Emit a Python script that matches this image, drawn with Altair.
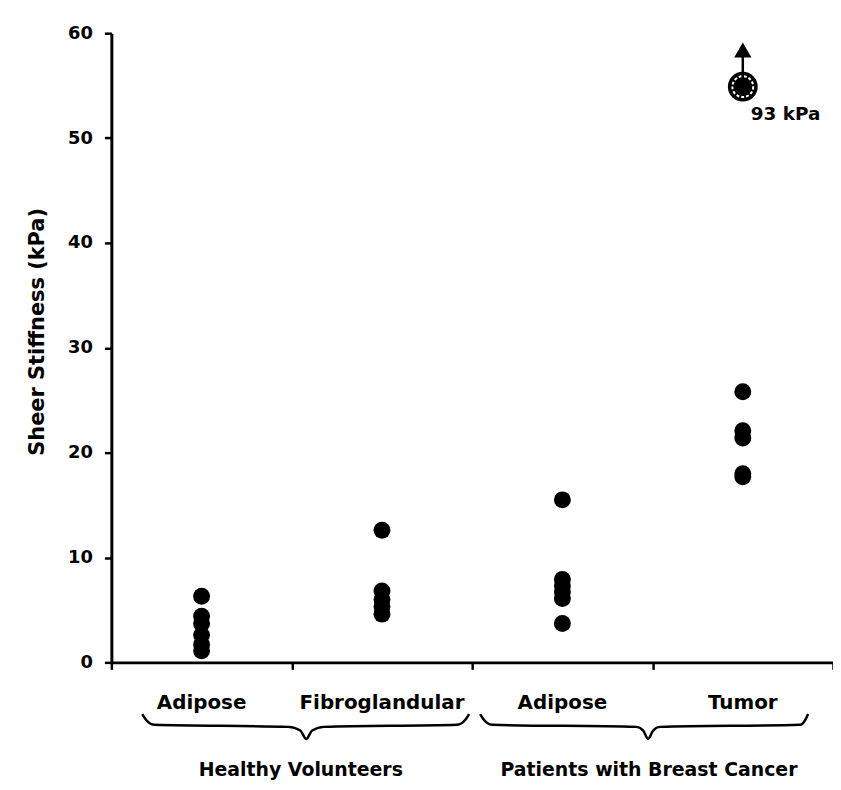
import altair as alt
import pandas as pd

# ---- data ----
categories = ["Adipose", "Fibroglandular", "Adipose", "Tumor"]
cat_pos = [0.5, 1.5, 2.5, 3.5]
hv_adipose = [6.3, 4.4, 3.7, 2.6, 1.7, 1.1]
hv_fibro = [12.6, 6.8, 6.0, 5.3, 4.6]
pt_adipose = [15.5, 7.9, 7.3, 6.7, 6.1, 3.7]
pt_tumor = [25.8, 22.1, 21.4, 18.0, 17.7]
series = [hv_adipose, hv_fibro, pt_adipose, pt_tumor]

# off-scale tumor value (drawn at top of the axis with an arrow)
outlier_x = 3.5
outlier_plot_y = 54.9
outlier_label = "93 kPa"
arrow_tip_y = 58.4

groups = ["Healthy Volunteers", "Patients with Breast Cancer"]
group_pos = [1.05, 2.98]

# brace outlines (x in category units, y in kPa units below the axis)
brace_x = [
    [0.171, 0.193, 0.237, 0.981, 1.047, 1.080, 1.113, 1.179, 1.917, 1.961, 1.983],
    [2.044, 2.066, 2.110, 2.909, 2.948, 2.975, 3.003, 3.041, 3.818, 3.846, 3.862],
]
brace_y = [-4.93, -5.50, -5.95, -6.15, -6.50, -7.30, -6.50, -6.15, -5.95, -5.50, -4.93]

cat_label_y = -3.9
group_label_y = -10.3

FONT = "DejaVu Sans"

# ---- tables ----
pts = pd.DataFrame(
    [{"x": cat_pos[i], "y": v} for i, vals in enumerate(series) for v in vals]
)
outlier = pd.DataFrame({"x": [outlier_x], "y": [outlier_plot_y], "y2": [arrow_tip_y - 0.4],
                        "label": [outlier_label]})
tip = pd.DataFrame({"x": [outlier_x], "y": [arrow_tip_y]})
cats = pd.DataFrame({"x": cat_pos, "y": [cat_label_y] * 4, "label": categories})
grp = pd.DataFrame({"x": group_pos, "y": [group_label_y] * 2, "label": groups})
braces = pd.DataFrame(
    [{"g": gi, "i": j, "x": bx, "y": brace_y[j]}
     for gi, xs in enumerate(brace_x) for j, bx in enumerate(xs)]
)

xenc = alt.X(
    "x:Q",
    scale=alt.Scale(domain=[0, 4], nice=False, zero=False),
    axis=alt.Axis(values=[0, 1, 2, 3, 4], labels=False, title=None, grid=False,
                  domainColor="black", domainWidth=3, tickColor="black",
                  tickWidth=2.5, tickSize=7),
)
yenc = alt.Y(
    "y:Q",
    scale=alt.Scale(domain=[0, 60], nice=False),
    axis=alt.Axis(values=[0, 10, 20, 30, 40, 50, 60], title="Sheer Stiffness (kPa)",
                  grid=False, domainColor="black", domainWidth=3, tickColor="black",
                  tickWidth=2.5, tickSize=7, labelPadding=12, labelFont=FONT,
                  labelFontSize=18, labelFontWeight="bold", labelColor="black",
                  titleFont=FONT, titleFontSize=21, titleFontWeight="bold",
                  titleColor="black", titleX=-64, titleY=300),
)

points = alt.Chart(pts).mark_circle(size=290, color="black", opacity=1).encode(x=xenc, y=yenc)

ring_outer = alt.Chart(outlier).mark_point(
    shape="circle", size=900, filled=True, fill="black", opacity=1, strokeWidth=0
).encode(x=xenc, y=yenc)
ring_inner = alt.Chart(outlier).mark_point(
    shape="circle", size=440, filled=False, stroke="white", strokeWidth=2,
    strokeDash=[3, 2], opacity=1
).encode(x=xenc, y=yenc)
arrow_shaft = alt.Chart(outlier).mark_rule(color="black", strokeWidth=2.5).encode(
    x=xenc, y=yenc, y2="y2:Q"
)
arrow_head = alt.Chart(tip).mark_point(
    shape="triangle-up", size=300, filled=True, color="black", opacity=1
).encode(x=xenc, y=yenc)
out_text = alt.Chart(outlier).mark_text(
    align="left", baseline="middle", dx=8, dy=28, font=FONT, fontSize=18.5,
    fontWeight="bold", color="black"
).encode(x=xenc, y=yenc, text="label:N")

cat_text = alt.Chart(cats).mark_text(
    align="center", baseline="middle", font=FONT, fontSize=20, fontWeight="bold",
    color="black"
).encode(x=xenc, y=yenc, text="label:N")

grp_text = alt.Chart(grp).mark_text(
    align="center", baseline="middle", font=FONT, fontSize=19, fontWeight="bold",
    color="black"
).encode(x=xenc, y=yenc, text="label:N")

brace_lines = alt.Chart(braces).mark_line(
    color="black", strokeWidth=2.5, interpolate="monotone"
).encode(x=xenc, y=yenc, detail="g:N", order="i:Q")

chart = alt.layer(
    points, ring_outer, ring_inner, arrow_shaft, arrow_head, out_text,
    cat_text, grp_text, brace_lines
).properties(
    width=726, height=633,
    background="white",
    autosize=alt.AutoSizeParams(type="none"),
    padding={"left": 104, "top": 23, "right": 0, "bottom": 118},
).configure_view(stroke=None)

chart.save("out.html", embed_options={"renderer": "svg", "actions": False})
